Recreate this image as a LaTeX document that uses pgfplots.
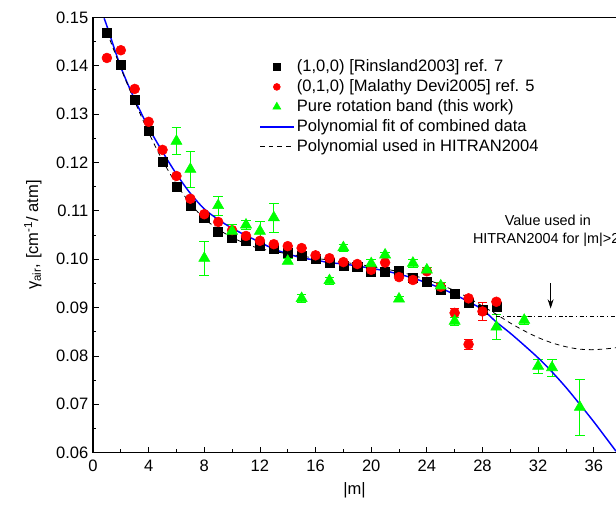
\documentclass[border=0pt]{standalone}
\usepackage{fontspec}
\setmainfont{Liberation Sans}
\usepackage{pgfplots}
\pgfplotsset{compat=1.18}
\usetikzlibrary{arrows.meta}
\definecolor{cGreen}{HTML}{00FF00}
\definecolor{cRed}{HTML}{FF0000}
\definecolor{cBlue}{HTML}{0000FF}
\newcommand{\fs}{\fontsize{12.4}{14.5}\selectfont}
\newcommand{\fsa}{\fontsize{10.8}{13}\selectfont}
\pgfplotsset{
  legmark/.style={legend image code/.code={\draw[##1, mark size=#1] plot coordinates {(0.44cm,0cm)};}},
  legline/.style={legend image code/.code={\draw[##1] (0cm,0cm) -- (0.88cm,0cm);}},
}

\begin{document}
\begin{tikzpicture}
\begin{axis}[
  name=ax, scale only axis, width=392.25pt, height=326.5pt,
  xmin=0, xmax=37.6, ymin=0.06, ymax=0.15,
  axis x line*=box, axis y line*=left,
  xtick={0,4,8,12,16,20,24,28,32,36}, minor x tick num=1,
  ytick={0.06,0.07,0.08,0.09,0.10,0.11,0.12,0.13,0.14,0.15}, minor y tick num=1,
  xtick pos=bottom, ytick pos=left, tick align=inside,
  major tick length=4.5pt, minor tick length=2.5pt,
  every tick/.style={black, line width=0.6pt}, axis line style={line width=0.8pt},
  /pgf/number format/assume math mode=true,
  yticklabel style={/pgf/number format/.cd, fixed, fixed zerofill, precision=2},
  xticklabel style={yshift=-2pt},
  tick label style={font=\fs},
  label style={font=\fs},
  xlabel={|m|}, ylabel={γ\textsubscript{air}, [cm\textsuperscript{-1}/ atm]},
  xlabel style={at={(axis description cs:0.5,-0.087)}, anchor=center},
  ylabel style={at={(axis description cs:-0.115,0.5)}, anchor=center},
  legend style={at={(0.31,0.915)}, anchor=north west, draw=none, fill=none,
    font=\fs, row sep=0.5pt, cells={anchor=west}},
  clip=true,
]
% (1,0,0) Rinsland2003
\addplot[only marks, mark=square*, mark size=3.4pt, black, legmark=2.4pt]
  coordinates {(1,0.1468) (2,0.1401) (3,0.1329) (4,0.1265) (5,0.1201) (6,0.1149) (7,0.1110)
  (8,0.1085) (9,0.1056) (10,0.1044) (11,0.1038) (12,0.1027) (13,0.1021) (14,0.1013)
  (15,0.1007) (16,0.1000) (17,0.0993) (18,0.0986) (19,0.0985) (20,0.0975) (21,0.0974)
  (22,0.0975) (23,0.0962) (24,0.0953) (25,0.0937) (26,0.0929) (27,0.0909) (28,0.0895)
  (29,0.0902)};
\addlegendentry{(1,0,0) [Rinsland2003] ref. 7}
% (0,1,0) Malathy Devi2005
\addplot[only marks, mark=*, mark size=3.7pt, cRed, legmark=2.6pt]
  coordinates {(1,0.1416) (2,0.1432) (3,0.1352) (4,0.1284) (5,0.1226) (6,0.1172) (7,0.1125)
  (8,0.1093) (9,0.1077) (10,0.1060) (11,0.1048) (12,0.1038) (13,0.1031) (14,0.1027)
  (15,0.1023) (16,0.1008) (17,0.1002) (18,0.0994) (19,0.0990) (20,0.0978) (21,0.0993)
  (22,0.0963) (23,0.0957) (24,0.0975) (25,0.0943) (26,0.0889) (27,0.0919) (27,0.0824)
  (28,0.0892) (29,0.0912)};
\addlegendentry{(0,1,0) [Malathy Devi2005] ref. 5}
\addplot[forget plot, draw=none, cRed, error bars/.cd, y dir=both, y explicit,
  error bar style={draw=cRed, line width=0.6pt}, error mark options={rotate=90, draw=cRed, mark size=3.5pt}]
  coordinates {(25,0.0943) +- (0,0.0008) (26,0.0889) +- (0,0.0009) (27,0.0824) +- (0,0.0010)
  (28,0.0892) +- (0,0.0018) (29,0.0912) +- (0,0.0005)};
% pure rotation band
\addplot[only marks, mark=triangle*, mark size=4.8pt, cGreen, legmark=3.5pt,
  error bars/.cd, y dir=both, y explicit,
  error bar style={draw=cGreen, line width=0.6pt}, error mark options={rotate=90, draw=cGreen, mark size=3.6pt}]
  coordinates {(6,0.1244) +- (0,0.0028) (7,0.1186) +- (0,0.0038) (8,0.1002) +- (0,0.0036)
  (9,0.1111) +- (0,0.0020) (10,0.1058) +- (0,0.0015) (11,0.1071) +- (0,0.0010)
  (12,0.1058) +- (0,0.0020) (13,0.1086) +- (0,0.0030) (14,0.0996) +- (0,0.0005)
  (15,0.0919) +- (0,0.0008) (17,0.0956) +- (0,0.0007) (18,0.1024) +- (0,0.0007)
  (20,0.0991) +- (0,0.0008) (21,0.1009) +- (0,0.0005) (22,0.0918) +- (0,0.0006)
  (23,0.0992) +- (0,0.0008) (24,0.0978) +- (0,0.0005) (25,0.0945) +- (0,0.0008)
  (26,0.0872) +- (0,0.0008) (29,0.0860) +- (0,0.0026) (31,0.0874) +- (0,0.0008)
  (32,0.0779) +- (0,0.0014) (33,0.0776) +- (0,0.0017) (35,0.0694) +- (0,0.0057)};
\addlegendentry{Pure rotation band (this work)}
\addplot[cBlue, line width=1.1pt, smooth, legline] coordinates {(0.8,0.1498) (1,0.1482) (2,0.1397)
  (3,0.1330) (4,0.1272) (5,0.1222) (6,0.1176) (7,0.1136) (8,0.1104) (9,0.1082) (10,0.1064)
  (11,0.1049) (12,0.1035) (13,0.1021) (14,0.1011) (15,0.1003) (16,0.0998) (17,0.0993)
  (18,0.0990) (19,0.0986) (20,0.0981) (21,0.0976) (22,0.0969) (23,0.0961) (24,0.0951)
  (25,0.0940) (26,0.0927) (27,0.0912) (28,0.0896) (29,0.0870) (30,0.0847) (31,0.0822)
  (32,0.0796) (33,0.0767) (34,0.0735) (35,0.0700) (36,0.0664) (37,0.0626) (37.6,0.0603)};
\addlegendentry{Polynomial fit of combined data}
\addplot[black, line width=0.6pt, dash pattern=on 3.5pt off 3pt, smooth, legline] coordinates {(1,0.1470)
  (2,0.1395) (3,0.1326) (4,0.1262) (5,0.1204) (6,0.1155) (7,0.1115) (8,0.1084) (9,0.1062)
  (10,0.1045) (11,0.1032) (12,0.1022) (14,0.1011) (16,0.1002) (18,0.0994) (20,0.0985)
  (22,0.0974) (24,0.0958) (26,0.0935) (27,0.0920) (28,0.0903) (29,0.0886) (30,0.0868)
  (31,0.0852) (32,0.0838) (33,0.0827) (34,0.0819) (35,0.0814) (36,0.0813) (37,0.0815)
  (37.6,0.0817)};
\addlegendentry{Polynomial used in HITRAN2004}
\addplot[forget plot, black, line width=0.6pt, dash pattern=on 3pt off 2pt on 0.8pt off 2pt]
  coordinates {(29,0.0881) (37.6,0.0881)};
\node[font=\fsa] at (axis cs:32.7,0.1081) {Value used in};
\node[font=\fsa, anchor=west, inner sep=0pt] at (axis cs:27.3,0.1040) {HITRAN2004 for |m|>29};
\draw[line width=0.6pt, -{Stealth[length=7pt, width=4.5pt]}] (axis cs:32.9,0.0950) -- (axis cs:32.9,0.0898);
\end{axis}
\pgfresetboundingbox
\path[use as bounding box] ([xshift=-69.75pt, yshift=-39.2pt]ax.south west) rectangle ([yshift=13pt]ax.north east);
\end{tikzpicture}
\end{document}
